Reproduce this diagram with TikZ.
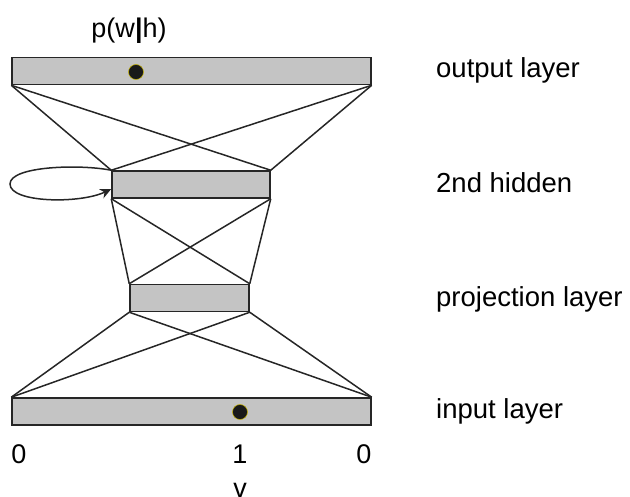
\documentclass[tikz,border=0pt]{standalone}
\usepackage{fontspec}
\setmainfont{Liberation Sans}
\usetikzlibrary{arrows.meta}
\definecolor{boxgray}{HTML}{C4C4C4}
\definecolor{dotrim}{HTML}{C8B400}
\begin{document}
\begin{tikzpicture}[x=1pt,y=-1pt,
  layerbox/.style={draw=black!85, fill=boxgray, line width=1.5pt, inner sep=0pt, minimum height=27pt},
  wire/.style={draw=black!85, line width=1.5pt},
  unit/.style={circle, fill=black!90, draw=dotrim, line width=0.5pt, minimum size=15pt, inner sep=0pt},
  lbl/.style={anchor=base west, inner sep=0pt, font=\fontsize{27.5pt}{32pt}\selectfont},
  num/.style={anchor=base, inner sep=0pt, font=\fontsize{27pt}{32pt}\selectfont}]
  \useasboundingbox (0,0) rectangle (630,497);

  % layers
  \node[layerbox, minimum width=359pt] (out) at (191.5,71) {};
  \node[layerbox, minimum width=158pt] (hid) at (191,184.5) {};
  \node[layerbox, minimum width=119pt] (proj) at (189.5,298) {};
  \node[layerbox, minimum width=359pt] (inp) at (191.5,411.5) {};

  % active units
  \node[unit] (wdot) at (136,72) {};
  \node[unit] (vdot) at (240,412) {};

  % output <-> 2nd hidden
  \draw[wire] (out.south west) -- (hid.north west);
  \draw[wire] (out.south west) -- (hid.north east);
  \draw[wire] (out.south east) -- (hid.north west);
  \draw[wire] (out.south east) -- (hid.north east);
  % 2nd hidden <-> projection
  \draw[wire] (hid.south west) -- (proj.north west);
  \draw[wire] (hid.south west) -- (proj.north east);
  \draw[wire] (hid.south east) -- (proj.north west);
  \draw[wire] (hid.south east) -- (proj.north east);
  % projection <-> input
  \draw[wire] (proj.south west) -- (inp.north west);
  \draw[wire] (proj.south west) -- (inp.north east);
  \draw[wire] (proj.south east) -- (inp.north west);
  \draw[wire] (proj.south east) -- (inp.north east);

  % recurrent loop on the hidden layer
  \draw[wire, -{Stealth[length=11pt,width=10pt]}]
    (hid.north west) .. controls (80,164) and (10,166) .. (10,184)
    .. controls (10,203) and (80,204) .. (hid.west |- 0,189);

  % texts
  \node[num] (pwh) at (129,38) {p(w\textbf{|}h)};
  \node[lbl] (lout) at (436,78) {output layer};
  \node[lbl] (lhid) at (436,193) {2nd hidden};
  \node[lbl] (lproj) at (436,307) {projection layer};
  \node[lbl] (linp) at (436,419) {input layer};
  \node[num] (z1) at (19,463) {0};
  \node[num] (one) at (240,463) {1};
  \node[num] (z2) at (364,463) {0};
  \node[num] (v) at (240,497) {v};
\end{tikzpicture}
\end{document}
